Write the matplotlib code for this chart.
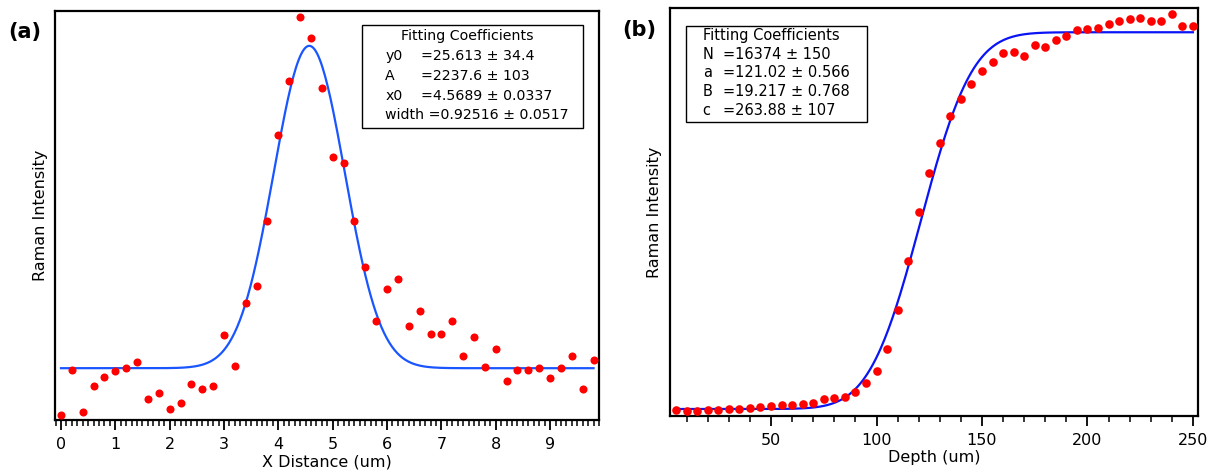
import math
import numpy as np
import matplotlib
matplotlib.use("Agg")
import matplotlib.pyplot as plt
from matplotlib.ticker import MultipleLocator
from matplotlib.patches import Rectangle

# ---- panel (a): lateral profile, gaussian fit ----
x_a = [0.0, 0.2, 0.4, 0.6, 0.8, 1.0, 1.2, 1.4, 1.6, 1.8,
       2.0, 2.2, 2.4, 2.6, 2.8, 3.0, 3.2, 3.4, 3.6, 3.8,
       4.0, 4.2, 4.4, 4.6, 4.8, 5.0, 5.2, 5.4, 5.6, 5.8,
       6.0, 6.2, 6.4, 6.6, 6.8, 7.0, 7.2, 7.4, 7.6, 7.8,
       8.0, 8.2, 8.4, 8.6, 8.8, 9.0, 9.2, 9.4, 9.6, 9.8]
y_a = [-299, 16, -279, -99, -37, 3, 30, 67, -189, -145,
       -260, -216, -83, -117, -99, 254, 39, 477, 595, 1044,
       1643, 2021, 2466, 2321, 1970, 1491, 1447, 1044, 726, 350,
       576, 643, 321, 420, 263, 263, 350, 109, 240, 35,
       161, -64, 16, 16, 26, -39, 26, 113, -117, 81]
# fit coefficients as printed on the chart
y0, A, x0, width = 25.613, 2237.6, 4.5689, 0.92516
coef_a_names = ["y0", "A", "x0", "width"]
coef_a_vals = ["=25.613 \u00b1 34.4", "=2237.6 \u00b1 103",
               "=4.5689 \u00b1 0.0337", "=0.92516 \u00b1 0.0517"]

# ---- panel (b): depth profile, error-function fit ----
x_b = list(range(5, 255, 5))
y_b = [206, 163, 163, 206, 235, 264, 278, 293, 336, 380,
       452, 437, 495, 539, 683, 741, 799, 987, 1407, 1898,
       2882, 4574, 6686, 8812, 10504, 11820, 12992, 13744, 14409, 14959,
       15364, 15740, 15769, 15610, 16102, 16015, 16319, 16463, 16738, 16796,
       16839, 16984, 17128, 17200, 17258, 17143, 17143, 17432, 16926, 16926]
N, a, B, c = 16374, 121.02, 19.217, 263.88
coef_b_names = ["N", "a", "B", "c"]
coef_b_vals = ["=16374 \u00b1 150", "=121.02 \u00b1 0.566",
               "=19.217 \u00b1 0.768", "=263.88 \u00b1 107"]

plt.rcParams["font.family"] = "DejaVu Sans"

W, H = 1217, 474
fig = plt.figure(figsize=(W / 100, H / 100), dpi=100)


def px_axes(l, t, r, b):
    return fig.add_axes([l / W, 1 - b / H, (r - l) / W, (b - t) / H])


def style(ax):
    for s in ax.spines.values():
        s.set_linewidth(1.6)
    ax.tick_params(axis="y", left=False, labelleft=False)
    ax.tick_params(axis="x", which="major", direction="out", length=7,
                   width=1.3, labelsize=11.5, pad=5)
    ax.tick_params(axis="x", which="minor", direction="out", length=4, width=1.1)


def coef_box(ax, x0b, y0b, x1b, y1b, title, names, vals, name_x, val_x, fs=10.5):
    ax.add_patch(Rectangle((x0b, y1b), x1b - x0b, y0b - y1b, transform=ax.transAxes,
                           fill=True, facecolor="white", edgecolor="black",
                           linewidth=1.0, zorder=5))
    step = (y0b - y1b) / 5.2
    ax.text((x0b + x1b) / 2 - 0.01, y0b - 0.55 * step, title, transform=ax.transAxes,
            ha="center", va="center", fontsize=fs, zorder=6)
    for i, (n, v) in enumerate(zip(names, vals)):
        yy = y0b - (1.55 + i) * step
        if len(n) > 3:
            # long name: value follows right after it
            ax.text(name_x, yy, n + " " + v, transform=ax.transAxes, ha="left",
                    va="center", fontsize=fs, zorder=6)
            continue
        ax.text(name_x, yy, n, transform=ax.transAxes, ha="left", va="center",
                fontsize=fs, zorder=6)
        ax.text(val_x, yy, v, transform=ax.transAxes, ha="left", va="center",
                fontsize=fs, zorder=6)


# panel (a)
ax1 = px_axes(55, 11, 599, 420)
style(ax1)
xf = np.linspace(0, 9.8, 400)
ax1.plot(xf, y0 + A * np.exp(-((xf - x0) / width) ** 2), color="#1a56ff", lw=1.6, zorder=2)
ax1.plot(x_a, y_a, "o", color="#ff0000", ms=5.8, mec="none", zorder=3)
ax1.set_xlim(-0.11, 9.9)
ax1.set_ylim(-334, 2505)
ax1.xaxis.set_major_locator(MultipleLocator(1))
ax1.xaxis.set_minor_locator(MultipleLocator(0.1))
ax1.set_xlabel("X Distance (um)", fontsize=11.5, labelpad=2)
ax1.set_ylabel("Raman Intensity", fontsize=11.5, labelpad=5)
coef_box(ax1, 0.565, 0.966, 0.97, 0.713, "Fitting Coefficients",
         coef_a_names, coef_a_vals, 0.607, 0.672, fs=10.2)
fig.text(8 / W, 1 - 32 / H, "(a)", fontsize=15, fontweight="bold", va="center")

# panel (b)
ax2 = px_axes(670, 8, 1198, 416)
style(ax2)
xb = np.linspace(5, 250, 400)
erf = np.vectorize(math.erf)
ax2.plot(xb, c + N * 0.5 * (1 + erf((xb - a) / (B * math.sqrt(2)))), color="#0a14f5",
         lw=1.6, zorder=2)
ax2.plot(x_b, y_b, "o", color="#ff0000", ms=6.2, mec="none", zorder=3)
ax2.set_xlim(2.1, 252.4)
ax2.set_ylim(-40, 17692)
ax2.xaxis.set_major_locator(MultipleLocator(50))
ax2.xaxis.set_minor_locator(MultipleLocator(10))
ax2.set_xlabel("Depth (um)", fontsize=11.5, labelpad=2)
ax2.set_ylabel("Raman Intensity", fontsize=11.5, labelpad=6)
coef_box(ax2, 0.03, 0.957, 0.373, 0.72, "Fitting Coefficients",
         coef_b_names, coef_b_vals, 0.062, 0.1)
fig.text(622 / W, 1 - 30 / H, "(b)", fontsize=15, fontweight="bold", va="center")

fig.savefig("out.png", dpi=100)
